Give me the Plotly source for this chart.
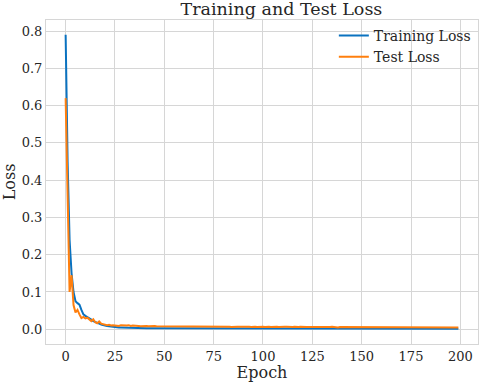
import plotly.graph_objects as go

epochs = list(range(200))

train_loss = [
    0.79, 0.45, 0.24, 0.15, 0.10, 0.075, 0.070, 0.066, 0.052, 0.040,
    0.036, 0.033, 0.031, 0.026, 0.022, 0.019, 0.017, 0.015, 0.013, 0.011,
    0.010, 0.009, 0.008, 0.007, 0.006, 0.006, 0.005, 0.005, 0.005, 0.005,
    0.0045, 0.0042, 0.004, 0.004, 0.0038, 0.0036, 0.0034, 0.0033, 0.0032, 0.0031,
    0.003, 0.003, 0.0029, 0.0029, 0.0028, 0.0028, 0.0027, 0.0027, 0.0026, 0.0026,
    0.0025, 0.0025, 0.0024, 0.0025, 0.0024, 0.0023, 0.0024, 0.0023, 0.0023, 0.0024,
    0.0023, 0.0022, 0.0023, 0.0022, 0.0023, 0.0022, 0.0022, 0.0023, 0.0022, 0.0021,
    0.0022, 0.0021, 0.0022, 0.0021, 0.0022, 0.0021, 0.0021, 0.0022, 0.0021, 0.0021,
    0.0021, 0.0020, 0.0021, 0.0020, 0.0021, 0.0020, 0.0021, 0.0020, 0.0020, 0.0021,
    0.0020, 0.0020, 0.0019, 0.0020, 0.0020, 0.0019, 0.0020, 0.0019, 0.0020, 0.0019,
    0.0019, 0.0020, 0.0019, 0.0019, 0.0018, 0.0019, 0.0019, 0.0018, 0.0019, 0.0018,
    0.0019, 0.0018, 0.0018, 0.0019, 0.0018, 0.0018, 0.0017, 0.0018, 0.0018, 0.0017,
    0.0018, 0.0017, 0.0018, 0.0017, 0.0017, 0.0018, 0.0017, 0.0017, 0.0016, 0.0017,
    0.0017, 0.0016, 0.0017, 0.0016, 0.0017, 0.0016, 0.0016, 0.0017, 0.0016, 0.0016,
    0.0016, 0.0015, 0.0016, 0.0016, 0.0015, 0.0016, 0.0015, 0.0016, 0.0015, 0.0015,
    0.0016, 0.0015, 0.0015, 0.0014, 0.0015, 0.0015, 0.0014, 0.0015, 0.0014, 0.0015,
    0.0014, 0.0014, 0.0015, 0.0014, 0.0014, 0.0013, 0.0014, 0.0014, 0.0013, 0.0014,
    0.0013, 0.0014, 0.0013, 0.0013, 0.0014, 0.0013, 0.0013, 0.0012, 0.0013, 0.0013,
    0.0012, 0.0013, 0.0012, 0.0013, 0.0012, 0.0012, 0.0013, 0.0012, 0.0012, 0.0012,
    0.0012, 0.0011, 0.0012, 0.0012, 0.0011, 0.0012, 0.0011, 0.0012, 0.0011, 0.0011,
]

test_loss = [
    0.62, 0.33, 0.10, 0.145, 0.065, 0.045, 0.052, 0.040, 0.030, 0.033,
    0.029, 0.031, 0.025, 0.022, 0.027, 0.019, 0.016, 0.021, 0.015, 0.013,
    0.012, 0.011, 0.012, 0.010, 0.011, 0.010, 0.010, 0.009, 0.011, 0.010,
    0.009, 0.010, 0.011, 0.009, 0.010, 0.009, 0.010, 0.009, 0.008, 0.009,
    0.010, 0.009, 0.008, 0.009, 0.008, 0.009, 0.008, 0.008, 0.009, 0.008,
    0.008, 0.009, 0.008, 0.008, 0.007, 0.008, 0.009, 0.008, 0.007, 0.008,
    0.008, 0.007, 0.008, 0.008, 0.007, 0.008, 0.007, 0.009, 0.008, 0.007,
    0.008, 0.007, 0.007, 0.008, 0.007, 0.008, 0.007, 0.007, 0.008, 0.007,
    0.007, 0.008, 0.007, 0.007, 0.006, 0.007, 0.008, 0.007, 0.007, 0.006,
    0.007, 0.007, 0.008, 0.007, 0.006, 0.007, 0.007, 0.006, 0.007, 0.007,
    0.007, 0.006, 0.007, 0.007, 0.006, 0.007, 0.008, 0.007, 0.006, 0.007,
    0.006, 0.007, 0.007, 0.006, 0.007, 0.006, 0.007, 0.006, 0.006, 0.007,
    0.006, 0.007, 0.006, 0.006, 0.007, 0.006, 0.006, 0.007, 0.006, 0.006,
    0.007, 0.006, 0.006, 0.005, 0.006, 0.007, 0.006, 0.006, 0.005, 0.006,
    0.006, 0.007, 0.006, 0.006, 0.005, 0.006, 0.006, 0.005, 0.006, 0.006,
    0.006, 0.005, 0.006, 0.006, 0.005, 0.006, 0.007, 0.006, 0.005, 0.006,
    0.006, 0.005, 0.006, 0.005, 0.006, 0.006, 0.005, 0.006, 0.005, 0.006,
    0.005, 0.006, 0.006, 0.005, 0.006, 0.005, 0.006, 0.005, 0.005, 0.006,
    0.005, 0.006, 0.005, 0.005, 0.006, 0.005, 0.005, 0.006, 0.005, 0.005,
    0.006, 0.005, 0.005, 0.006, 0.005, 0.005, 0.005, 0.006, 0.005, 0.005,
]

x_ticks = [0, 25, 50, 75, 100, 125, 150, 175, 200]
y_ticks = [0.0, 0.1, 0.2, 0.3, 0.4, 0.5, 0.6, 0.7, 0.8]

FONT = "DejaVu Serif"
GRID = "#d6d6d6"
TXT = "#262626"

fig = go.Figure()
fig.add_trace(go.Scatter(x=epochs, y=train_loss, mode="lines", name="Training Loss",
                         line=dict(color="#0a72c0", width=2)))
fig.add_trace(go.Scatter(x=epochs, y=test_loss, mode="lines", name="Test Loss",
                         line=dict(color="#ff7f0e", width=2)))

fig.update_layout(
    width=484, height=382,
    margin=dict(l=46, r=6, t=20, b=38, autoexpand=False),
    paper_bgcolor="white", plot_bgcolor="white",
    font=dict(family=FONT, size=13, color=TXT),
    title=dict(text="Training and Test Loss", x=0.545, xanchor="center", xref="paper",
               y=0.993, yanchor="top", font=dict(family=FONT, size=17.5, color=TXT)),
    showlegend=True,
    legend=dict(x=0.995, y=1.0, xanchor="right", yanchor="top",
                bgcolor="rgba(255,255,255,0)", borderwidth=0,
                font=dict(family=FONT, size=14, color=TXT),
                tracegroupgap=0, itemwidth=30),
    xaxis=dict(range=[-9.95, 208.95], tickvals=x_ticks, ticks="", automargin=False,
               showgrid=True, gridcolor=GRID, gridwidth=1, zeroline=False,
               showline=True, linecolor=GRID, linewidth=1, mirror=True,
               tickfont=dict(family=FONT, size=13, color=TXT),
               title=dict(text="Epoch", font=dict(family=FONT, size=16, color=TXT), standoff=2)),
    yaxis=dict(range=[-0.0395, 0.8295], tickvals=y_ticks, tickformat=".1f", ticks="", automargin=False,
               showgrid=True, gridcolor=GRID, gridwidth=1, zeroline=False,
               showline=True, linecolor=GRID, linewidth=1, mirror=True,
               tickfont=dict(family=FONT, size=13, color=TXT),
               title=dict(text="Loss", font=dict(family=FONT, size=16, color=TXT), standoff=2)),
)

fig.write_html("out.html", config={"displayModeBar": False},
               post_script="document.body.style.margin='0';")
